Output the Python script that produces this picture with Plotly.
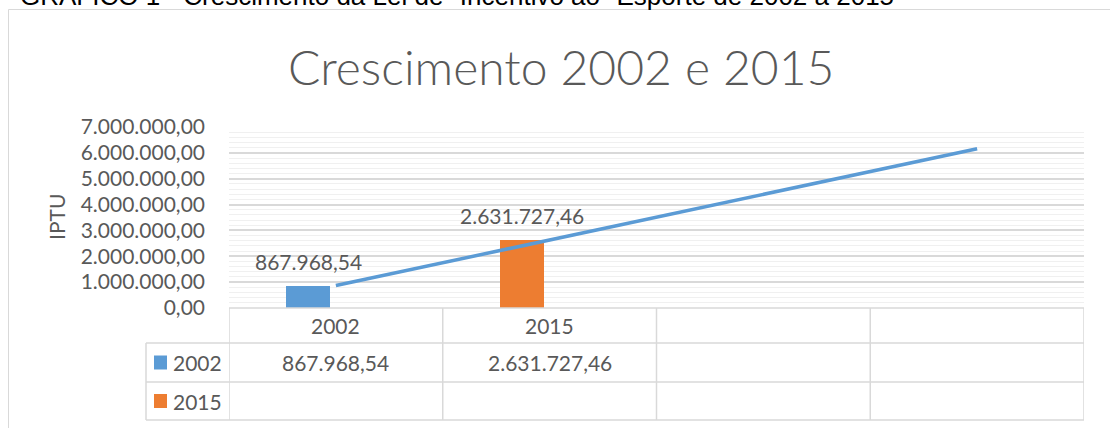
import numpy as np
import plotly.graph_objects as go

# --- dados do gráfico ---
categorias = ["2002", "2015", "", ""]
series_nomes = ["2002", "2015"]
valores_2002 = [867968.54, 2631727.46]
valores_2015 = []
cores_barras = ["#5B9BD5", "#ED7D31"]
y_ticks = [0, 1000000, 2000000, 3000000, 4000000, 5000000, 6000000, 7000000]

titulo = "Crescimento 2002 e 2015"
eixo_y = "IPTU"
legenda_fig = 'GRÁFICO 1 - Crescimento da Lei de "Incentivo ao" Esporte de 2002 a 2015'

W, H = 1110, 428
L, R, T, B = 229, 1084, 127, 308
CINZA = "#595959"
LINHA = "#D9D9D9"
FONTE = "Lato"


def br(v):
    s = f"{v:,.2f}"
    return s.replace(",", "X").replace(".", ",").replace("X", ".")


def px_x(p):
    return (p - L) / (R - L)


def px_y(p):
    return (B - p) / (B - T)


def txt(size=21, color=CINZA, **kw):
    return dict(family=FONTE, size=size, color=color, **kw)


x_pos = list(range(1, len(categorias) + 1))
x_obs = x_pos[:len(valores_2002)]

# deslocamento da barra dentro do grupo (2 séries, a 2a vazia)
bar_w = 0.206
bar_shift = -0.13

fig = go.Figure()
fig.add_trace(go.Bar(
    x=x_obs, y=valores_2002,
    width=bar_w, offset=bar_shift - bar_w / 2,
    marker=dict(color=cores_barras, line=dict(width=0)),
    name=series_nomes[0], showlegend=False, hoverinfo="skip",
))

# linha de tendência linear (previsão de 2 períodos)
a, b = np.polyfit(x_obs, valores_2002, 1)
x_tend = [x_pos[0], x_pos[-1]]
fig.add_trace(go.Scatter(
    x=x_tend, y=[a * x + b for x in x_tend],
    mode="lines", line=dict(color="#5B9BD5", width=3.5),
    showlegend=False, hoverinfo="skip",
))

anns = []
# rótulos de dados
for x, v in zip(x_obs, valores_2002):
    anns.append(dict(x=x + bar_shift, y=v, xref="x", yref="y", text=br(v),
                     showarrow=False, xanchor="center", yanchor="middle", yshift=24,
                     font=txt()))

# tabela de dados
row_y = [308, 343, 382, 420]
for x, c in zip(x_pos, categorias):
    if c:
        anns.append(dict(x=x, y=px_y((row_y[0] + row_y[1]) / 2), xref="x", yref="paper",
                         text=c, showarrow=False, xanchor="center", yanchor="middle",
                         font=txt()))
for x, v in zip(x_obs, valores_2002):
    anns.append(dict(x=x, y=px_y((row_y[1] + row_y[2]) / 2), xref="x", yref="paper",
                     text=br(v), showarrow=False, xanchor="center", yanchor="middle",
                     font=txt()))

shapes = []
for i, nome in enumerate(series_nomes):
    yc = (row_y[i + 1] + row_y[i + 2]) / 2
    shapes.append(dict(type="rect", xref="paper", yref="paper",
                       x0=px_x(154), x1=px_x(167), y0=px_y(yc - 7), y1=px_y(yc + 7),
                       fillcolor=cores_barras[i], line=dict(width=0)))
    anns.append(dict(x=px_x(171), y=px_y(yc), xref="paper", yref="paper",
                     text=nome, showarrow=False, xanchor="left", yanchor="middle",
                     font=txt()))

# linhas da tabela
shapes.append(dict(type="line", xref="paper", yref="paper", x0=0, x1=1,
                   y0=px_y(row_y[0]), y1=px_y(row_y[0]), line=dict(color=LINHA, width=1.5)))
for ry in row_y[1:]:
    shapes.append(dict(type="line", xref="paper", yref="paper", x0=px_x(146), x1=1,
                       y0=px_y(ry), y1=px_y(ry), line=dict(color=LINHA, width=1.5)))
shapes.append(dict(type="line", xref="paper", yref="paper", x0=px_x(146), x1=px_x(146),
                   y0=px_y(row_y[1]), y1=px_y(row_y[3]), line=dict(color=LINHA, width=1.5)))
for k in range(len(categorias) + 1):
    xv = 0.5 + k
    shapes.append(dict(type="line", xref="x", yref="paper", x0=xv, x1=xv,
                       y0=px_y(row_y[0]), y1=px_y(row_y[3]), line=dict(color=LINHA, width=1.5)))

# borda do gráfico
shapes.append(dict(type="rect", xref="paper", yref="paper",
                   x0=px_x(8.5), x1=px_x(1130), y0=px_y(9.5), y1=px_y(450),
                   line=dict(color=LINHA, width=1), fillcolor="rgba(0,0,0,0)"))

# título, eixo y e legenda da figura (cortada no topo)
anns.append(dict(x=px_x(561), y=px_y(66), xref="paper", yref="paper", text=titulo,
                 showarrow=False, xanchor="center", yanchor="middle",
                 font=dict(family="Lato Light, Lato", size=48, color=CINZA, weight=300)))
anns.append(dict(x=px_x(56), y=px_y(217), xref="paper", yref="paper", text=eixo_y,
                 showarrow=False, xanchor="center", yanchor="middle", textangle=-90,
                 font=txt()))
anns.append(dict(x=px_x(18), y=px_y(13), xref="paper", yref="paper", text=legenda_fig,
                 showarrow=False, xanchor="left", yanchor="bottom",
                 font=dict(family="Liberation Sans", size=26, color="#000000")))

fig.update_layout(
    width=W, height=H,
    margin=dict(l=L, r=W - R, t=T, b=H - B, pad=0),
    paper_bgcolor="white", plot_bgcolor="white",
    bargap=0,
    annotations=anns, shapes=shapes,
    font=dict(family=FONTE, color=CINZA),
)
fig.update_xaxes(range=[0.5, len(categorias) + 0.5], showticklabels=False,
                 showgrid=False, zeroline=False, showline=False)
fig.update_yaxes(range=[0, 7000000], tickvals=y_ticks, ticktext=[br(v) for v in y_ticks],
                 tickfont=txt(), ticks="", ticklabelstandoff=23,
                 showgrid=True, gridcolor=LINHA, gridwidth=1.5, zeroline=False, showline=False,
                 minor=dict(dtick=200000, showgrid=True, gridcolor="#F0F0F0", gridwidth=1))

fig.write_html("out.html", config={"displayModeBar": False},
               post_script="document.body.style.margin='0';")
